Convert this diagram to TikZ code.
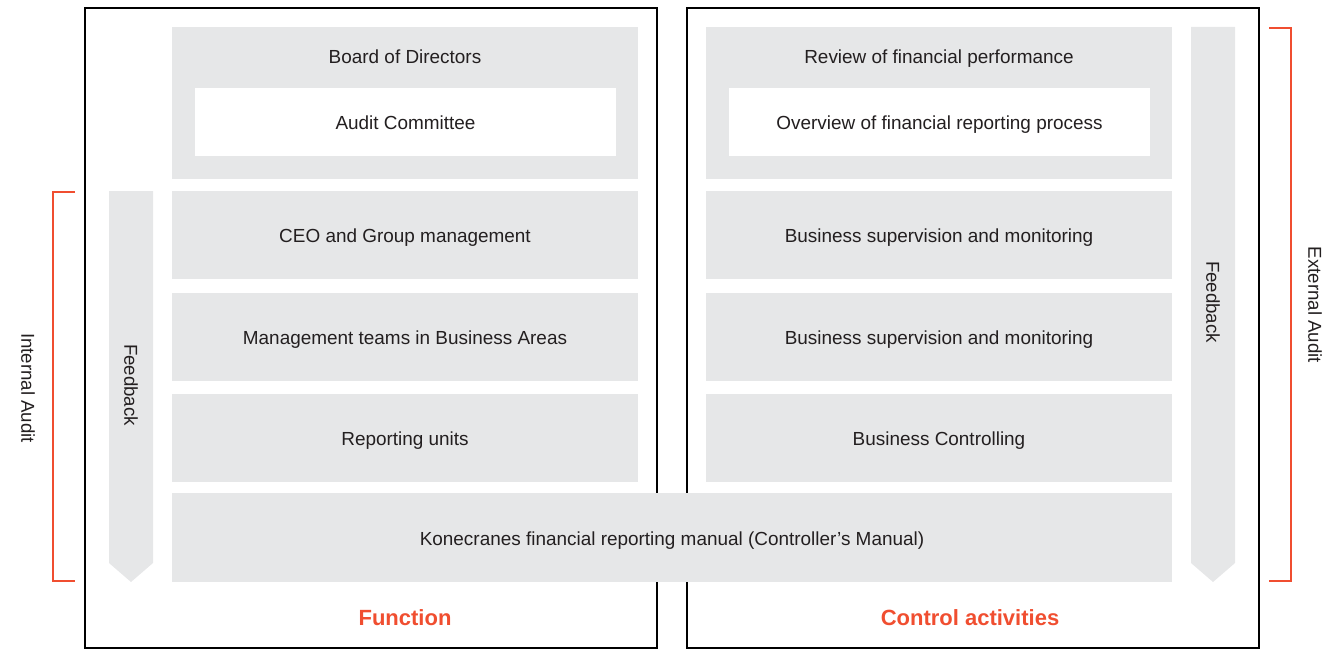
\documentclass[tikz,border=0pt]{standalone}
\usepackage{fontspec}
\setmainfont{Liberation Sans}
\usetikzlibrary{fit}
\definecolor{boxgray}{HTML}{E6E7E8}
\definecolor{txt}{HTML}{231F20}
\definecolor{accent}{HTML}{F04E30}
\tikzset{
  boxtext/.style={text=txt, font=\fontsize{14.2}{17}\selectfont, text height=10pt, text depth=2.6pt, yshift=-2.2pt},
  gbox/.style={fill=boxgray, draw=none, inner sep=0pt},
  wbox/.style={fill=white, draw=none, inner sep=0pt},
  frame/.style={draw=black, line width=1.6pt, inner sep=0pt},
  title/.style={text=accent, font=\bfseries\fontsize{16.5}{19}\selectfont, text height=12pt, text depth=3pt, yshift=-0.8pt},
  vlabel/.style={text=txt, rotate=-90, font=\fontsize{14}{16}\selectfont},
  bracket/.style={draw=accent, line width=1.8pt},
  fbarrow/.style={fill=boxgray, draw=none}
}
\begin{document}
\begin{tikzpicture}[x=0.75pt,y=-0.75pt]
\useasboundingbox (0,0) rectangle (1344,649);
% frames
\node[frame, fit={(85,8)(657,648)}] (lframe) {};
\node[frame, fit={(687,8)(1259,648)}] (rframe) {};
% left column
\node[gbox, fit={(172,27)(638,179)}] (board) {};
\node[boxtext] (boardt) at (405,56) {Board of Directors};
\node[wbox, fit={(195,88)(616,156)}] (audit) {};
\node[boxtext] at (audit.center) {Audit Committee};
\node[gbox, fit={(172,191)(638,279)}] (ceo) {};
\node[boxtext] at (ceo.center) {CEO and Group management};
\node[gbox, fit={(172,293)(638,381)}] (mgmt) {};
\node[boxtext] at (mgmt.center) {Management teams in Business Areas};
\node[gbox, fit={(172,394)(638,482)}] (units) {};
\node[boxtext] at (units.center) {Reporting units};
% right column
\node[gbox, fit={(706,27)(1172,179)}] (review) {};
\node[boxtext] (reviewt) at (939,56) {Review of financial performance};
\node[wbox, fit={(729,88)(1150,156)}] (overview) {};
\node[boxtext] at (overview.center) {Overview of financial reporting process};
\node[gbox, fit={(706,191)(1172,279)}] (sup1) {};
\node[boxtext] at (sup1.center) {Business supervision and monitoring};
\node[gbox, fit={(706,293)(1172,381)}] (sup2) {};
\node[boxtext] at (sup2.center) {Business supervision and monitoring};
\node[gbox, fit={(706,394)(1172,482)}] (ctrl) {};
\node[boxtext] at (ctrl.center) {Business Controlling};
% manual
\node[gbox, fit={(172,493)(1172,582)}] (manual) {};
\node[boxtext] at (manual.center) {Konecranes financial reporting manual (Controller’s Manual)};
% feedback arrows
\fill[fbarrow] (109,191) -- (153,191) -- (153,563) -- (131,582) -- (109,563) -- cycle;
\node[vlabel] (fbl) at (131,385) {Feedback};
\fill[fbarrow] (1191,27) -- (1235,27) -- (1235,563) -- (1213,582) -- (1191,563) -- cycle;
\node[vlabel] (fbr) at (1213,302) {Feedback};
% brackets
\draw[bracket] (75,192) -- (53,192) -- (53,581) -- (75,581);
\node[vlabel] (ia) at (28,388) {Internal Audit};
\draw[bracket] (1269,28) -- (1291,28) -- (1291,581) -- (1269,581);
\node[vlabel] (ea) at (1315,305) {External Audit};
% titles
\node[title] (fn) at (405,618) {Function};
\node[title] (ca) at (970,618) {Control activities};
\end{tikzpicture}
\end{document}
